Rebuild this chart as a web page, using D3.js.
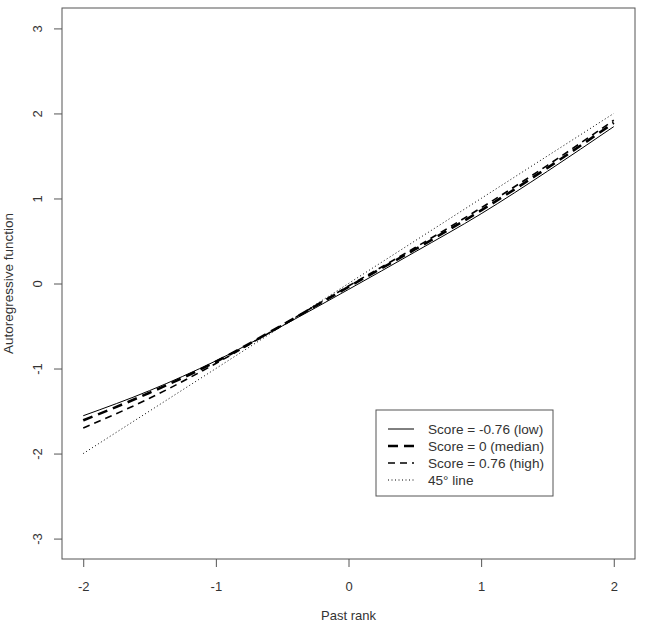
<!DOCTYPE html>
<html><head><meta charset="utf-8">
<script src="https://cdn.jsdelivr.net/npm/d3@7"></script>
<style>body{margin:0;background:#fff}svg{display:block;font-family:"Liberation Sans",Arial,sans-serif}</style>
</head><body><svg id="c" width="645" height="632"></svg>
<script>
const pastRank = [-2, -1.5, -1, -0.5, 0, 0.5, 1, 1.5, 2];
const lowScore = [-1.555, -1.26, -0.91, -0.50, -0.07, 0.37, 0.82, 1.32, 1.845];
const medianScore = [-1.61, -1.285, -0.92, -0.49, -0.04, 0.40, 0.86, 1.36, 1.89];
const highScore = [-1.70, -1.35, -0.94, -0.49, -0.03, 0.42, 0.89, 1.39, 1.92];
const line45 = [-2, -1.5, -1, -0.5, 0, 0.5, 1, 1.5, 2];
const xTicks = [-2, -1, 0, 1, 2];
const yTicks = [-3, -2, -1, 0, 1, 2, 3];
const legendLabels = ["Score = -0.76 (low)", "Score = 0 (median)", "Score = 0.76 (high)", "45\u00b0 line"];

const svg = d3.select("#c");
const x = d3.scaleLinear().domain([-2.16, 2.16]).range([62, 635]);
const y = d3.scaleLinear().domain([-3.24, 3.24]).range([559, 8]);
const ink = "#333";
const fmt = d => String(d);

const styles = [
  {data: lowScore, w: 1, dash: null},
  {data: medianScore, w: 2.6, dash: "10,6"},
  {data: highScore, w: 1.6, dash: "7,5"},
  {data: line45, w: 1, dash: "1,2.5"}
];
const line = d3.line().x(d => x(d[0])).y(d => y(d[1])).curve(d3.curveMonotoneX);
styles.forEach(s => {
  svg.append("path").datum(pastRank.map((p, i) => [p, s.data[i]]))
    .attr("d", line).attr("fill", "none").attr("stroke", "#000")
    .attr("stroke-width", s.w).attr("stroke-dasharray", s.dash);
});

// box
svg.append("rect").attr("x", 62).attr("y", 8).attr("width", 573).attr("height", 551)
  .attr("fill", "none").attr("stroke", "#555").attr("stroke-width", 1);

// axes
const xa = svg.append("g").attr("transform", "translate(0,559)")
  .call(d3.axisBottom(x).tickValues(xTicks).tickSize(8).tickPadding(15).tickFormat(fmt));
xa.select(".domain").remove();
xa.selectAll("line").attr("stroke", "#555");
xa.selectAll("text").attr("fill", ink).attr("font-size", 13);

const ya = svg.append("g").attr("transform", "translate(62,0)")
  .call(d3.axisLeft(y).tickValues(yTicks).tickSize(8).tickFormat(fmt));
ya.select(".domain").remove();
ya.selectAll("line").attr("stroke", "#555");
ya.selectAll("text").remove();
ya.selectAll(".tick").append("text")
  .attr("transform", "translate(-20,0) rotate(-90)")
  .attr("text-anchor", "middle").attr("fill", ink).attr("font-size", 13)
  .text(fmt);

svg.append("text").attr("x", x(0)).attr("y", 620).attr("text-anchor", "middle")
  .attr("fill", ink).attr("font-size", 13).text("Past rank");
svg.append("text").attr("transform", `translate(13,${y(0)}) rotate(-90)`)
  .attr("text-anchor", "middle").attr("fill", ink).attr("font-size", 13.5).text("Autoregressive function");

// legend
const lg = svg.append("g");
lg.append("rect").attr("x", 376).attr("y", 410).attr("width", 177).attr("height", 86)
  .attr("fill", "#fff").attr("stroke", "#555");
legendLabels.forEach((t, i) => {
  const yy = 429 + i * 17;
  lg.append("line").attr("x1", 388).attr("x2", 414).attr("y1", yy).attr("y2", yy)
    .attr("stroke", "#000").attr("stroke-width", styles[i].w).attr("stroke-dasharray", styles[i].dash);
  lg.append("text").attr("x", 428).attr("y", yy).attr("dy", "0.35em")
    .attr("fill", ink).attr("font-size", 13.6).text(t);
});
</script></body></html>
